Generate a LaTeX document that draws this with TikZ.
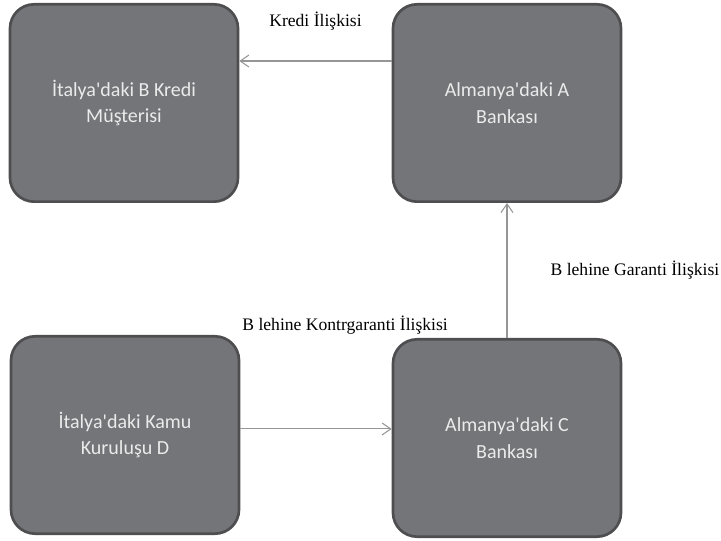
\documentclass[tikz,border=0pt]{standalone}
\usepackage{fontspec}
\setmainfont{Liberation Serif}
\newfontfamily\boxfont{Carlito}
\usepackage{xcolor}
\usetikzlibrary{positioning,arrows.meta}

\definecolor{boxgray}{RGB}{116,117,121}
\definecolor{boxline}{RGB}{78,78,80}
\definecolor{linkgray}{RGB}{150,150,150}

\begin{document}
\begin{tikzpicture}[x=0.75pt, y=-0.75pt, party/.style={draw=boxline, line width=2pt, fill=boxgray, rounded corners=18pt, minimum width=171pt, minimum height=148pt, align=center, text=white!92!black, font=\boxfont\fontsize{15}{20}\selectfont}, link/.style={draw=linkgray, line width=0.8pt, -{Straight Barb[length=6.5pt,width=9pt]}}, lbl/.style={font=\fontsize{13.2}{15}\selectfont}]
		\useasboundingbox (0,0) rectangle (721,541);
		\node[party] (creditB) at (124,103) {İtalya'daki B Kredi\\Müşterisi};
		\node[party] (bankA) at (507,103) {Almanya'daki A\\Bankası};
		\node[party] (publicD) at (125,435) {İtalya'daki Kamu\\Kuruluşu D};
		\node[party] (bankC) at (507,438) {Almanya'daki C\\Bankası};
		% relations
		\draw[link] (bankA.160) -- node[lbl, above=19pt] (creditRel) {Kredi İlişkisi} (bankA.160 -| creditB.east);
		\draw[link] (bankC.north) -- node[lbl, right=29pt] (guarRel) {B lehine Garanti İlişkisi} (bankA.south);
		\draw[link] (publicD.3) -- (publicD.3 -| bankC.west);
		\node[lbl, above right=-3pt and -2pt of publicD.north east] (counterRel) {B lehine Kontrgaranti İlişkisi};
	\end{tikzpicture}
\end{document}
